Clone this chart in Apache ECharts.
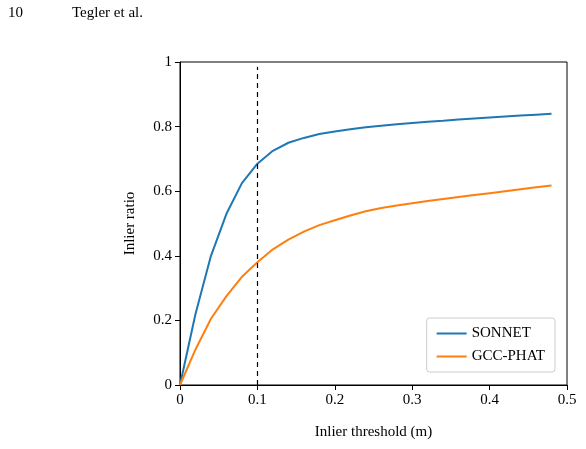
<!DOCTYPE html>
<html><head><meta charset="utf-8">
<script src="https://cdn.jsdelivr.net/npm/echarts@6/dist/echarts.min.js"></script>
<style>body{margin:0}#c{width:586px;height:449px}</style>
</head><body><div id="c"></div>
<script>
var thresholds = [0, 0.02, 0.04, 0.06, 0.08, 0.1, 0.12, 0.14, 0.16, 0.18, 0.2, 0.22, 0.24, 0.26, 0.28, 0.3, 0.32, 0.34, 0.36, 0.38, 0.4, 0.42, 0.44, 0.46, 0.48];
var sonnet = [0, 0.22, 0.40, 0.53, 0.625, 0.685, 0.725, 0.75, 0.765, 0.777, 0.785, 0.792, 0.798, 0.803, 0.807, 0.811, 0.815, 0.818, 0.822, 0.825, 0.828, 0.831, 0.834, 0.837, 0.84];
var gcc = [0, 0.11, 0.205, 0.275, 0.335, 0.38, 0.42, 0.45, 0.475, 0.495, 0.51, 0.525, 0.538, 0.548, 0.556, 0.563, 0.57, 0.576, 0.582, 0.588, 0.594, 0.6, 0.606, 0.612, 0.618];
var font = 'Liberation Serif';

function pairs(ys) { return thresholds.map(function (x, i) { return [x, ys[i]]; }); }
function fmt(v) { return v === 0 || v === 1 ? String(v) : String(Math.round(v * 10) / 10); }

var myChart = echarts.init(document.getElementById('c'));
var option = {
	animation: false,
	textStyle: { fontFamily: font },
	graphic: [
		{ type: 'text', left: 8, top: 6, style: { text: '10', font: '15px ' + font, fill: '#000' } },
		{ type: 'text', left: 72, top: 6, style: { text: 'Tegler et al.', font: '15px ' + font, fill: '#000' } }
	],
	grid: { left: 180, right: 19, top: 62, bottom: 64, show: true, borderColor: '#000', borderWidth: 1 },
	legend: {
		orient: 'vertical', right: 31, bottom: 77, padding: [8, 10],
		borderColor: '#ccc', borderWidth: 1, borderRadius: 3,
		itemWidth: 30, itemHeight: 2, itemGap: 8,
		textStyle: { fontFamily: font, fontSize: 15, color: '#000' },
		data: [{ name: 'SONNET', icon: 'rect' }, { name: 'GCC-PHAT', icon: 'rect' }]
	},
	xAxis: {
		type: 'value', min: 0, max: 0.5, interval: 0.1,
		name: 'Inlier threshold (m)', nameLocation: 'middle', nameGap: 40,
		nameTextStyle: { fontFamily: font, fontSize: 15, color: '#000' },
		axisLine: { lineStyle: { color: '#000' } },
		axisTick: { lineStyle: { color: '#000' } },
		axisLabel: { fontFamily: font, fontSize: 15, color: '#000', formatter: fmt },
		splitLine: { show: false }
	},
	yAxis: {
		type: 'value', min: 0, max: 1, interval: 0.2,
		name: 'Inlier ratio', nameLocation: 'middle', nameGap: 42,
		nameTextStyle: { fontFamily: font, fontSize: 15, color: '#000' },
		axisLine: { show: true, lineStyle: { color: '#000' } },
		axisTick: { show: true, lineStyle: { color: '#000' } },
		axisLabel: { fontFamily: font, fontSize: 15, color: '#000', formatter: fmt },
		splitLine: { show: false }
	},
	series: [{
		name: 'SONNET', type: 'line', data: pairs(sonnet), showSymbol: false,
		itemStyle: { color: '#1f77b4' }, lineStyle: { width: 2, color: '#1f77b4' },
		markLine: {
			silent: true, symbol: 'none', label: { show: false },
			lineStyle: { type: [5, 4], color: '#000', width: 1.2 },
			data: [[{ coord: [0.1, 0] }, { coord: [0.1, 0.985] }]]
		}
	}, {
		name: 'GCC-PHAT', type: 'line', data: pairs(gcc), showSymbol: false,
		itemStyle: { color: '#ff7f0e' }, lineStyle: { width: 2, color: '#ff7f0e' }
	}]
};
myChart.setOption(option, true);
</script></body></html>
